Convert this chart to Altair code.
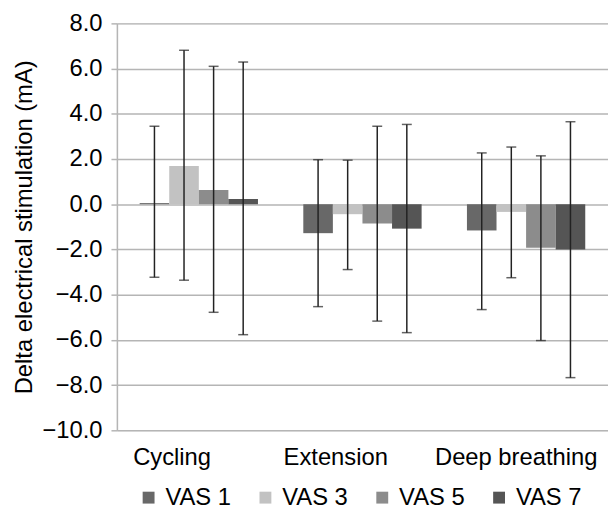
import altair as alt
import pandas as pd

activities = ["Cycling", "Extension", "Deep breathing"]
groups = ["VAS 1", "VAS 3", "VAS 5", "VAS 7"]
colors = ["#686868", "#c2c2c2", "#8c8c8c", "#555555"]

# mean values per group (one per activity)
mean_vas1 = [0.05, -1.28, -1.16]
mean_vas3 = [1.69, -0.44, -0.34]
mean_vas5 = [0.63, -0.85, -1.93]
mean_vas7 = [0.23, -1.08, -2.00]

# error bar ends
upper_vas1 = [3.45, 1.97, 2.27]
upper_vas3 = [6.81, 1.95, 2.53]
upper_vas5 = [6.10, 3.45, 2.14]
upper_vas7 = [6.29, 3.53, 3.65]

lower_vas1 = [-3.23, -4.53, -4.66]
lower_vas3 = [-3.36, -2.89, -3.25]
lower_vas5 = [-4.78, -5.17, -6.03]
lower_vas7 = [-5.77, -5.68, -7.67]

means = [mean_vas1, mean_vas3, mean_vas5, mean_vas7]
uppers = [upper_vas1, upper_vas3, upper_vas5, upper_vas7]
lowers = [lower_vas1, lower_vas3, lower_vas5, lower_vas7]

rows = []
for g, m, u, l in zip(groups, means, uppers, lowers):
    for a, mv, uv, lv in zip(activities, m, u, l):
        rows.append({"activity": a, "vas": g, "mean": mv, "hi": uv, "lo": lv})
df = pd.DataFrame(rows)

FONT = "Liberation Sans"
GRID = "#b5b5b5"

x_enc = alt.X(
    "activity:N",
    sort=activities,
    scale=alt.Scale(paddingInner=0.277, paddingOuter=0.139),
    axis=alt.Axis(
        title=None,
        labelAngle=0,
        ticks=False,
        tickSize=0,
        domain=False,
        grid=False,
        labelFontSize=24,
        labelFont=FONT,
        labelColor="black",
        labelPadding=16,
        labelOffset={"condition": {"test": "datum.value === 'Deep breathing'", "value": -10}, "value": -27},
    ),
)
xo_enc = alt.XOffset("vas:N", sort=groups, scale=alt.Scale(paddingInner=0, paddingOuter=0))
y_scale = alt.Scale(domain=[-10, 8], nice=False, zero=False)

bars = alt.Chart(df).mark_bar().encode(
    x=x_enc,
    xOffset=xo_enc,
    y=alt.Y(
        "mean:Q",
        scale=y_scale,
        axis=alt.Axis(
            title="Delta electrical stimulation (mA)",
            values=[-10, -8, -6, -4, -2, 0, 2, 4, 6, 8],
            format=".1f",
            labelFontSize=24,
            labelFont=FONT,
            labelColor="black",
            labelPadding=9,
            tickSize=6,
            tickColor=GRID,
            tickWidth=1.5,
            domainColor=GRID,
            domainWidth=1.5,
            gridColor=GRID,
            gridWidth=1.5,
            titleFontSize=24,
            titleFont=FONT,
            titleFontWeight="normal",
            titleColor="black",
            titlePadding=6,
        ),
    ),
    y2=alt.datum(0),
    color=alt.Color(
        "vas:N",
        sort=groups,
        scale=alt.Scale(domain=groups, range=colors),
        legend=alt.Legend(
            title=None,
            orient="none",
            direction="horizontal",
            legendX=20,
            legendY=467,
            padding=0,
            symbolType="square",
            symbolSize=144,
            symbolStrokeWidth=0,
            labelFontSize=24,
            labelFont=FONT,
            labelColor="black",
            labelOffset=5,
            columnPadding=22,
        ),
    ),
)

rules = alt.Chart(df).mark_rule(color="#222222", strokeWidth=1.5).encode(
    x=alt.X("activity:N", sort=activities),
    xOffset=alt.XOffset("vas:N", sort=groups),
    y=alt.Y("lo:Q", scale=y_scale),
    y2="hi:Q",
)

caps_hi = alt.Chart(df).mark_tick(color="#222222", thickness=1.5, size=10).encode(
    x=alt.X("activity:N", sort=activities),
    xOffset=alt.XOffset("vas:N", sort=groups),
    y=alt.Y("hi:Q", scale=y_scale),
)
caps_lo = alt.Chart(df).mark_tick(color="#222222", thickness=1.5, size=10).encode(
    x=alt.X("activity:N", sort=activities),
    xOffset=alt.XOffset("vas:N", sort=groups),
    y=alt.Y("lo:Q", scale=y_scale),
)

chart = (
    alt.layer(bars, rules, caps_hi, caps_lo)
    .properties(
        width=496,
        height=411,
        autosize=alt.AutoSizeParams(type="none"),
        padding={"left": 110, "top": 13, "right": 0, "bottom": 82},
    )
    .configure_view(stroke=None)
    .configure(font=FONT)
)

chart.save("out.html", embed_options={"renderer": "svg", "actions": False})
